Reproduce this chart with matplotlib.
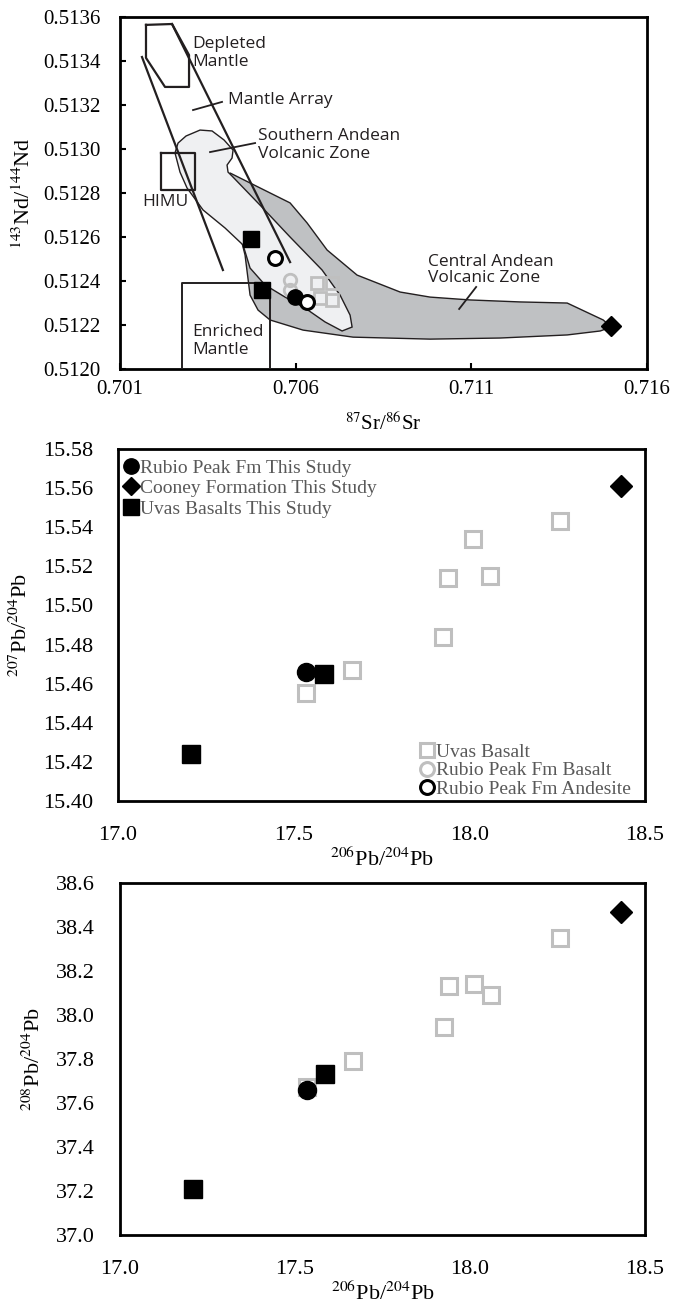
import matplotlib
matplotlib.use("Agg")
import matplotlib.pyplot as plt
from matplotlib.lines import Line2D
from matplotlib.ticker import FormatStrFormatter, MultipleLocator, FixedLocator

plt.rcParams['font.family'] = ['Liberation Serif', 'DejaVu Serif']
plt.rcParams['mathtext.fontset'] = 'stix'

GRAY = '#bfbfbf'
TXT_GRAY = '#595959'
ANNO_FONT = ['Open Sans', 'DejaVu Sans']

# --- Sr-Nd data ---
sr_uvas = [0.70661, 0.70704, 0.70669, 0.70704]
nd_uvas = [0.512391, 0.512391, 0.512323, 0.512314]
sr_rp_basalt = [0.70584, 0.70584]
nd_rp_basalt = [0.512405, 0.512360]
sr_rp_andesite = [0.70541, 0.70632]
nd_rp_andesite = [0.512505, 0.512305]
sr_rp_study = [0.70598]
nd_rp_study = [0.512327]
sr_cooney = [0.71498]
nd_cooney = [0.512195]
sr_uvas_study = [0.70473, 0.70504]
nd_uvas_study = [0.51259, 0.512359]
sr_ticks = [0.701, 0.706, 0.711, 0.716]

# --- Pb data ---
pb206_uvas = [17.534, 17.666, 17.925, 17.939, 18.010, 18.059, 18.258]
pb207_uvas = [15.455, 15.467, 15.484, 15.514, 15.534, 15.515, 15.543]
pb208_uvas = [37.673, 37.791, 37.945, 38.130, 38.140, 38.090, 38.350]
pb206_rp_study = [17.534]
pb207_rp_study = [15.466]
pb208_rp_study = [37.659]
pb206_cooney = [18.432]
pb207_cooney = [15.561]
pb208_cooney = [38.47]
pb206_uvas_study = [17.209, 17.586]
pb207_uvas_study = [15.424, 15.465]
pb208_uvas_study = [37.209, 37.732]

# --- reservoir fields (Sr, Nd outlines) ---
svz_sr = [0.702566, 0.702652, 0.702879, 0.703278, 0.70362, 0.703961, 0.704218, 0.704189,
          0.704047, 0.704075, 0.704189, 0.704986, 0.705841, 0.706752, 0.707264, 0.707549,
          0.707606, 0.707321, 0.706837, 0.706268, 0.705698, 0.705129, 0.704702, 0.704502,
          0.70399, 0.703363, 0.702908, 0.702708]
svz_nd = [0.512982, 0.513027, 0.513059, 0.513086, 0.513082, 0.513041, 0.512995, 0.512959,
          0.512927, 0.512895, 0.512877, 0.512745, 0.5126, 0.51245, 0.512336, 0.512245,
          0.512191, 0.512173, 0.512214, 0.512277, 0.512327, 0.512382, 0.512459, 0.512564,
          0.512641, 0.512723, 0.512823, 0.512895]
cvz_sr = [0.704132, 0.704986, 0.705841, 0.706325, 0.706894, 0.707748, 0.708973, 0.709827,
          0.710966, 0.71239, 0.713728, 0.714753, 0.714981, 0.714668, 0.713728, 0.71182,
          0.709827, 0.707634, 0.706211, 0.705271, 0.704929, 0.704702, 0.704559, 0.704275,
          0.704075]
cvz_nd = [0.512891, 0.512823, 0.512755, 0.512664, 0.512541, 0.512427, 0.51235, 0.512327,
          0.512314, 0.512305, 0.5123, 0.512223, 0.512191, 0.512173, 0.512155, 0.512141,
          0.512136, 0.512145, 0.512177, 0.512223, 0.512268, 0.512336, 0.512518, 0.5127,
          0.512836]
dm_sr = [0.70174, 0.702481, 0.702965, 0.702965, 0.702281, 0.70174, 0.70174]
dm_nd = [0.513564, 0.513568, 0.513427, 0.513282, 0.513282, 0.513414, 0.513564]
array_left_sr = [0.701626, 0.703929]
array_left_nd = [0.513418, 0.51245]
array_right_sr = [0.702481, 0.705841]
array_right_nd = [0.513568, 0.512486]
himu_sr = [0.702167, 0.703136, 0.703136, 0.702167, 0.702167]
himu_nd = [0.512982, 0.512982, 0.512814, 0.512814, 0.512982]
em_sr = [0.702765, 0.702765, 0.705271, 0.705271]
em_nd = [0.5120, 0.512391, 0.512391, 0.5120]

fig = plt.figure(figsize=(6.73, 13.05), dpi=100)
ax1 = fig.add_axes([0.1783, 0.7172, 0.7831, 0.2698])
ax2 = fig.add_axes([0.1753, 0.3862, 0.7831, 0.2697])
ax3 = fig.add_axes([0.1783, 0.0536, 0.7801, 0.2698])

for ax in (ax1, ax2, ax3):
    for s in ax.spines.values():
        s.set_linewidth(2)

# ---------- Sr-Nd panel ----------
ax1.fill(cvz_sr, cvz_nd, facecolor='#bfc1c3', edgecolor='#231f20', lw=1.0, zorder=1)
ax1.fill(svz_sr, svz_nd, facecolor='#eff0f2', edgecolor='#231f20', lw=1.0, zorder=2)
ax1.plot(dm_sr, dm_nd, color='#231f20', lw=1.6, zorder=3)
ax1.plot(array_left_sr, array_left_nd, color='#231f20', lw=1.6, zorder=3)
ax1.plot(array_right_sr, array_right_nd, color='#231f20', lw=1.6, zorder=3)
ax1.plot(himu_sr, himu_nd, color='#231f20', lw=1.6, zorder=3)
ax1.plot(em_sr, em_nd, color='#231f20', lw=1.4, zorder=3)

ax1.plot(sr_uvas, nd_uvas, 's', ms=9, mfc='none', mec=GRAY, mew=2, zorder=4)
ax1.plot(sr_rp_basalt, nd_rp_basalt, 'o', ms=9, mfc='none', mec=GRAY, mew=2, zorder=4)
ax1.plot(sr_uvas_study, nd_uvas_study, 's', ms=12, color='black', zorder=5)
ax1.plot(sr_rp_study, nd_rp_study, 'o', ms=11, color='black', zorder=5)
ax1.plot(sr_rp_andesite, nd_rp_andesite, 'o', ms=10, mfc='white', mec='black', mew=2.2, zorder=6)
ax1.plot(sr_cooney, nd_cooney, 'D', ms=10, color='black', zorder=5)

anno = dict(family=ANNO_FONT, fontsize=12.5, color='#231f20', zorder=7)
ax1.text(0.70305, 0.513436, 'Depleted\nMantle', ha='left', va='center', linespacing=1.15, **anno)
ax1.text(0.704075, 0.513223, 'Mantle Array', ha='left', va='center', **anno)
ax1.plot([0.703079, 0.703904], [0.513177, 0.513214], color='#231f20', lw=1.3, zorder=7)
ax1.text(0.704929, 0.513018, 'Southern Andean\nVolcanic Zone', ha='left', va='center', linespacing=1.15, **anno)
ax1.plot([0.703563, 0.704845], [0.512986, 0.513027], color='#231f20', lw=1.3, zorder=7)
ax1.text(0.702281, 0.512759, 'HIMU', ha='center', va='center', **anno)
ax1.text(0.70305, 0.512127, 'Enriched\nMantle', ha='left', va='center', linespacing=1.15, **anno)
ax1.text(0.70977, 0.51245, 'Central Andean\nVolcanic Zone', ha='left', va='center', linespacing=1.0, **anno)
ax1.plot([0.710653, 0.711137], [0.512273, 0.512373], color='#231f20', lw=1.3, zorder=7)

ax1.set_xlim(0.701, 0.716)
ax1.set_ylim(0.5120, 0.5136)
ax1.xaxis.set_major_locator(FixedLocator(sr_ticks))
ax1.yaxis.set_major_locator(MultipleLocator(0.0002))
ax1.xaxis.set_major_formatter(FormatStrFormatter('%.3f'))
ax1.yaxis.set_major_formatter(FormatStrFormatter('%.4f'))
ax1.tick_params(direction='in', length=4, width=1.5, labelsize=15, pad=8)
ax1.tick_params(axis='y', pad=14)
ax1.set_xlabel(r'$^{87}$Sr/$^{86}$Sr', fontsize=15, labelpad=10)
ax1.set_ylabel(r'$^{143}$Nd/$^{144}$Nd', fontsize=16, labelpad=6)

# ---------- Pb 207 panel ----------
ax2.plot(pb206_uvas, pb207_uvas, 's', ms=12, mfc='none', mec=GRAY, mew=2.2, zorder=3)
h_rp = ax2.plot(pb206_rp_study, pb207_rp_study, 'o', ms=13, color='black', zorder=4,
                label='Rubio Peak Fm This Study')[0]
h_co = ax2.plot(pb206_cooney, pb207_cooney, 'D', ms=11, color='black', zorder=4,
                label='Cooney Formation This Study')[0]
h_us = ax2.plot(pb206_uvas_study, pb207_uvas_study, 's', ms=13, color='black', zorder=4,
                label='Uvas Basalts This Study')[0]

leg1 = ax2.legend(handles=[h_rp, h_co, h_us], loc='upper left', bbox_to_anchor=(-0.012, 1.01),
                  frameon=False, fontsize=14, handlelength=0.6, handletextpad=0.15,
                  labelspacing=0.15, markerscale=0.85, borderpad=0.2)
for t in leg1.get_texts():
    t.set_color(TXT_GRAY)
ax2.add_artist(leg1)

g1 = Line2D([], [], marker='s', ls='none', ms=10, mfc='none', mec=GRAY, mew=2.2, label='Uvas Basalt')
g2 = Line2D([], [], marker='o', ls='none', ms=10, mfc='none', mec=GRAY, mew=2.2, label='Rubio Peak Fm Basalt')
g3 = Line2D([], [], marker='o', ls='none', ms=10, mfc='none', mec='black', mew=2.2, label='Rubio Peak Fm Andesite')
leg2 = ax2.legend(handles=[g1, g2, g3], loc='lower left', bbox_to_anchor=(0.55, -0.03),
                  frameon=False, fontsize=14, handlelength=0.6, handletextpad=0.15,
                  labelspacing=0.05, borderpad=0.2)
for t in leg2.get_texts():
    t.set_color(TXT_GRAY)

ax2.set_xlim(17.0, 18.5)
ax2.set_ylim(15.40, 15.58)
ax2.xaxis.set_major_locator(MultipleLocator(0.5))
ax2.yaxis.set_major_locator(MultipleLocator(0.02))
ax2.xaxis.set_major_formatter(FormatStrFormatter('%.1f'))
ax2.yaxis.set_major_formatter(FormatStrFormatter('%.2f'))
ax2.tick_params(length=0, labelsize=16, pad=18)
ax2.set_xlabel(r'$^{206}$Pb/$^{204}$Pb', fontsize=16, labelpad=2)
ax2.set_ylabel(r'$^{207}$Pb/$^{204}$Pb', fontsize=16, labelpad=8)

# ---------- Pb 208 panel ----------
ax3.plot(pb206_uvas, pb208_uvas, 's', ms=12, mfc='none', mec=GRAY, mew=2.2, zorder=3)
ax3.plot(pb206_rp_study, pb208_rp_study, 'o', ms=13, color='black', zorder=4)
ax3.plot(pb206_cooney, pb208_cooney, 'D', ms=11, color='black', zorder=4)
ax3.plot(pb206_uvas_study, pb208_uvas_study, 's', ms=13, color='black', zorder=4)

ax3.set_xlim(17.0, 18.5)
ax3.set_ylim(37.0, 38.6)
ax3.xaxis.set_major_locator(MultipleLocator(0.5))
ax3.yaxis.set_major_locator(MultipleLocator(0.2))
ax3.xaxis.set_major_formatter(FormatStrFormatter('%.1f'))
ax3.yaxis.set_major_formatter(FormatStrFormatter('%.1f'))
ax3.tick_params(length=0, labelsize=16, pad=18)
ax3.set_xlabel(r'$^{206}$Pb/$^{204}$Pb', fontsize=16, labelpad=2)
ax3.set_ylabel(r'$^{208}$Pb/$^{204}$Pb', fontsize=16, labelpad=8)

fig.savefig('out.png', dpi=100)
